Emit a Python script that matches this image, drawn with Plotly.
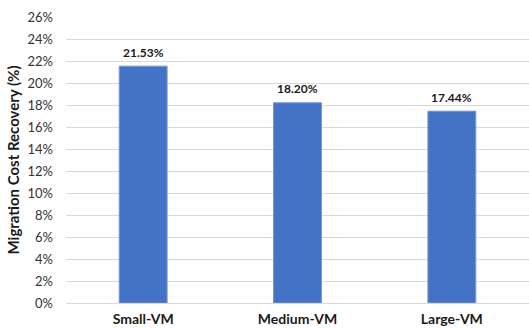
import plotly.graph_objects as go

# Migration cost recovery per VM size
categories = ["Small-VM", "Medium-VM", "Large-VM"]
recovery_pct = [21.53, 18.20, 17.44]
y_ticks = list(range(0, 27, 2))
y_tick_labels = [f"{v}%" for v in y_ticks]

FONT = "Lato, 'Open Sans', sans-serif"
BAR_COLOR = "#4472C4"

fig = go.Figure(
    go.Bar(
        x=categories,
        y=recovery_pct,
        marker=dict(color=BAR_COLOR, line=dict(color="#6f93d6", width=1)),
        width=0.31,
        hoverinfo="skip",
    )
)

# value labels above each bar
for cat, val in zip(categories, recovery_pct):
    fig.add_annotation(
        x=cat, y=val, text=f"<b>{val:.2f}%</b>", showarrow=False,
        yshift=14, font=dict(family=FONT, size=12, color="#1a1a1a"),
    )

fig.update_layout(
    width=529, height=329,
    margin=dict(l=66, r=0, t=17, b=26),
    paper_bgcolor="white", plot_bgcolor="white",
    showlegend=False,
    font=dict(family=FONT, size=12, color="#333333"),
    xaxis=dict(
        showgrid=False, showline=False, ticks="", ticklabelstandoff=6,
        tickfont=dict(family=FONT, size=14, color="#1a1a1a", weight="bold"),
    ),
    yaxis=dict(
        range=[0, 26], tickvals=y_ticks, ticktext=y_tick_labels,
        showgrid=True, gridcolor="#d9d9d9", gridwidth=1,
        zeroline=True, zerolinecolor="#d9d9d9", zerolinewidth=1,
        showline=False, ticks="", ticklabelstandoff=12,
        tickfont=dict(family=FONT, size=13, color="#333333"),
        title=dict(
            text="<b>Migration Cost Recovery (%)</b>", standoff=4,
            font=dict(family=FONT, size=15, color="#1a1a1a"),
        ),
    ),
)

fig.write_html("out.html")
